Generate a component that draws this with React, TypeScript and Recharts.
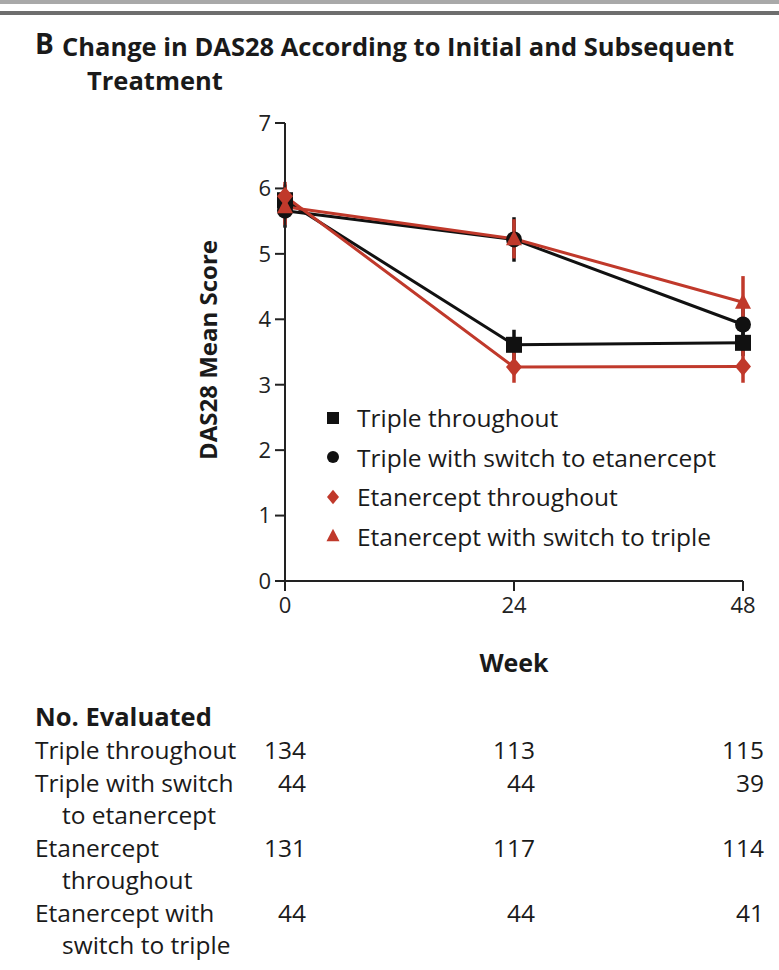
import React from "react";
import { LineChart, Line, XAxis, YAxis, ErrorBar } from "recharts";

const weeks = [0, 24, 48];
const weekTicks = [0, 24, 48];
const scoreTicks = [0, 1, 2, 3, 4, 5, 6, 7];

const tripleThroughout = [5.82, 3.61, 3.64];
const tripleThroughoutErr = [0.24, 0.23, 0.2];
const tripleSwitch = [5.66, 5.22, 3.92];
const tripleSwitchErr = [0.26, 0.34, 0.4];
const etanThroughout = [5.88, 3.27, 3.28];
const etanThroughoutErr = [0.22, 0.24, 0.25];
const etanSwitch = [5.72, 5.23, 4.26];
const etanSwitchErr = [0.28, 0.3, 0.4];

const groupLabels = [
  ["Triple throughout"],
  ["Triple with switch", "to etanercept"],
  ["Etanercept", "throughout"],
  ["Etanercept with", "switch to triple"],
];
const evaluated = [
  [134, 113, 115],
  [44, 44, 39],
  [131, 117, 114],
  [44, 44, 41],
];

const BLACK = "#111111";
const RED = "#c0392b";
const FONT = "'Open Sans', sans-serif";

const data = weeks.map((week, i) => ({
  week,
  tt: tripleThroughout[i],
  ttErr: tripleThroughoutErr[i],
  ts: tripleSwitch[i],
  tsErr: tripleSwitchErr[i],
  et: etanThroughout[i],
  etErr: etanThroughoutErr[i],
  es: etanSwitch[i],
  esErr: etanSwitchErr[i],
}));

type Shape = "square" | "circle" | "diamond" | "triangle";

function Marker({ shape, cx, cy, color, s }: { shape: Shape; cx: number; cy: number; color: string; s: number }) {
  if (shape === "square")
    return <rect x={cx - s} y={cy - s} width={s * 2} height={s * 2} fill={color} />;
  if (shape === "circle") return <circle cx={cx} cy={cy} r={s} fill={color} />;
  if (shape === "diamond")
    return <polygon points={`${cx},${cy - s * 1.2} ${cx + s},${cy} ${cx},${cy + s * 1.2} ${cx - s},${cy}`} fill={color} />;
  return <polygon points={`${cx},${cy - s * 1.1} ${cx + s},${cy + s * 0.8} ${cx - s},${cy + s * 0.8}`} fill={color} />;
}

const dotFor = (shape: Shape, color: string, s: number) => (props: any) => (
  <Marker key={`${shape}-${props.index}`} shape={shape} cx={props.cx} cy={props.cy} color={color} s={s} />
);

const series: { key: string; name: string; shape: Shape; color: string }[] = [
  { key: "tt", name: "Triple throughout", shape: "square", color: BLACK },
  { key: "ts", name: "Triple with switch to etanercept", shape: "circle", color: BLACK },
  { key: "et", name: "Etanercept throughout", shape: "diamond", color: RED },
  { key: "es", name: "Etanercept with switch to triple", shape: "triangle", color: RED },
];

const colX = [285, 514, 743];

export default function App() {
  let row = 0;
  return (
    <div style={{ position: "absolute", left: 0, top: 0, width: 779, height: 970, background: "#fff", fontFamily: FONT, color: "#1a1a1a", overflow: "hidden" }}>
      <div style={{ position: "absolute", left: 0, top: 0, width: 779, height: 4, background: "#a9a9a9" }} />
      <div style={{ position: "absolute", left: 0, top: 11, width: 779, height: 4, background: "#6e6e6e" }} />
      <div style={{ position: "absolute", left: 35, top: 28, fontSize: 28, fontWeight: "bold", lineHeight: "30px" }}>B</div>
      <div style={{ position: "absolute", left: 62, top: 29, fontSize: 25.5, fontWeight: "bold", lineHeight: "34px", whiteSpace: "nowrap" }}>
        Change in DAS28 According to Initial and Subsequent
        <br />
        <span style={{ marginLeft: 25 }}>Treatment</span>
      </div>

      <div style={{ position: "absolute", left: 0, top: 0 }}>
        <LineChart width={779} height={700} data={data} margin={{ top: 123, right: 36, bottom: 59, left: 205 }}>
          <XAxis
            type="number"
            dataKey="week"
            domain={[0, 48]}
            ticks={weekTicks}
            tickSize={10}
            tickMargin={6}
            axisLine={{ stroke: "#222", strokeWidth: 2 }}
            tickLine={{ stroke: "#222", strokeWidth: 2 }}
            tick={{ fill: "#222", fontSize: 22, fontFamily: FONT }}
            height={60}
          />
          <YAxis
            domain={[0, 7]}
            ticks={scoreTicks}
            tickSize={10}
            tickMargin={4}
            axisLine={{ stroke: "#222", strokeWidth: 2 }}
            tickLine={{ stroke: "#222", strokeWidth: 2 }}
            tick={{ fill: "#222", fontSize: 22, fontFamily: FONT }}
            width={80}
          />
          {series.map((s) => (
            <Line
              key={s.key}
              dataKey={s.key}
              name={s.name}
              stroke={s.color}
              strokeWidth={3}
              isAnimationActive={false}
              dot={dotFor(s.shape, s.color, 8)}
              activeDot={false}
            >
              <ErrorBar dataKey={`${s.key}Err`} width={0} strokeWidth={3.5} stroke={s.color} direction="y" />
            </Line>
          ))}
        </LineChart>
      </div>

      <div style={{ position: "absolute", left: 323, top: 398, fontSize: 24.5, color: "#1a1a1a" }}>
        {series.map((s) => (
          <div key={s.key} style={{ display: "flex", alignItems: "center", height: 39.5, whiteSpace: "nowrap" }}>
            <svg width={24} height={20} style={{ marginRight: 10 }}>
              <Marker shape={s.shape} cx={10} cy={10} color={s.color} s={s.shape === "triangle" ? 6.5 : 6} />
            </svg>
            <span>{s.name}</span>
          </div>
        ))}
      </div>

      <div style={{ position: "absolute", left: 207, top: 350, transform: "translate(-50%, -50%) rotate(-90deg)", fontSize: 24, fontWeight: "bold", whiteSpace: "nowrap" }}>
        DAS28 Mean Score
      </div>
      <div style={{ position: "absolute", left: 514, top: 662, transform: "translate(-50%, -50%)", fontSize: 25, fontWeight: "bold" }}>
        Week
      </div>

      <div style={{ position: "absolute", left: 35, top: 700, fontSize: 25.5, fontWeight: "bold", lineHeight: "32px" }}>No. Evaluated</div>
      {groupLabels.map((lines, gi) => {
        const top = 734 + row * 32.5;
        row += lines.length;
        return (
          <React.Fragment key={gi}>
            {lines.map((t, li) => (
              <div key={li} style={{ position: "absolute", left: li === 0 ? 35 : 62, top: top + li * 32.5, fontSize: 24.5, lineHeight: "32px", whiteSpace: "nowrap" }}>
                {t}
              </div>
            ))}
            {evaluated[gi].map((n, ci) => (
              <div key={`n${ci}`} style={{ position: "absolute", left: colX[ci] + 21 - 80, width: 80, textAlign: "right", top, fontSize: 24.5, lineHeight: "32px" }}>
                {n}
              </div>
            ))}
          </React.Fragment>
        );
      })}
    </div>
  );
}
